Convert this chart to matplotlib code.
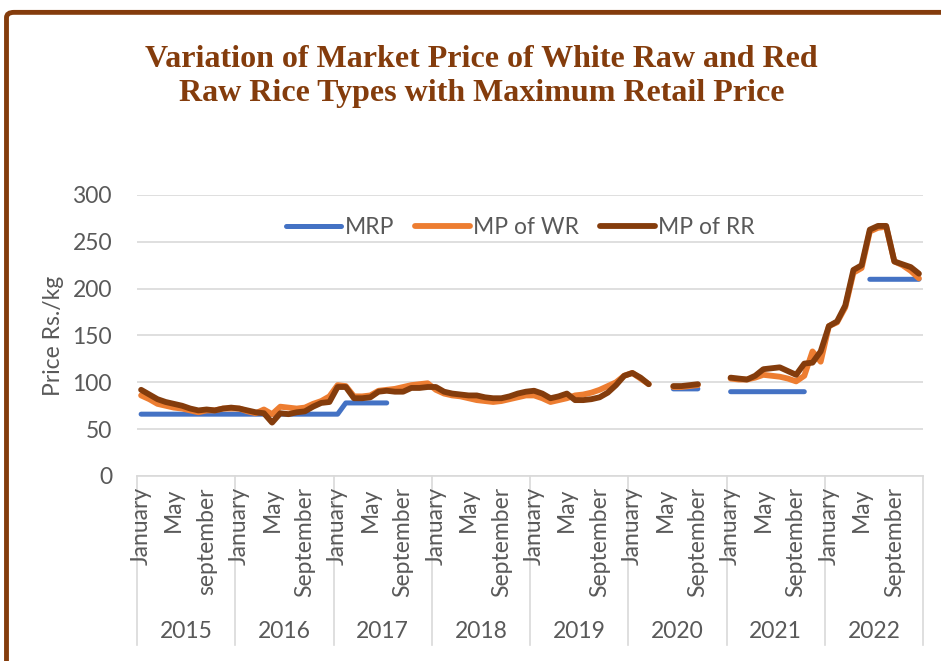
import numpy as np
import matplotlib.pyplot as plt
from matplotlib.patches import FancyBboxPatch
from matplotlib.transforms import blended_transform_factory

nan = np.nan

YEARS = ["2015", "2016", "2017", "2018", "2019", "2020", "2021", "2022"]
MONTH_TICKS = {0: "January", 4: "May", 8: "September"}

# monthly prices (Rs./kg), one row per year, Jan..Dec
mrp = [
    [66, 66, 66, 66, 66, 66, 66, 66, 66, 66, 66, 66],
    [66, 66, 66, 66, 66, 66, 66, 66, 66, 66, 66, 66],
    [66, 78, 78, 78, 78, 78, 78, nan, nan, nan, nan, nan],
    [nan, nan, nan, nan, nan, nan, nan, nan, nan, nan, nan, nan],
    [nan, nan, nan, nan, nan, nan, nan, nan, nan, nan, nan, nan],
    [nan, nan, nan, nan, nan, 93, 93, 93, 93, nan, nan, nan],
    [90, 90, 90, 90, 90, 90, 90, 90, 90, 90, nan, nan],
    [nan, nan, nan, nan, nan, 210, 210, 210, 210, 210, 210, 210],
]
mp_wr = [
    [86, 82, 77, 75, 73, 72, 70, 68, 70, 70, 72, 72],
    [72, 69, 67, 71, 66, 74, 73, 72, 73, 77, 80, 85],
    [97, 96, 85, 85, 86, 91, 92, 93, 95, 97, 98, 99],
    [92, 88, 86, 85, 83, 81, 80, 79, 80, 82, 84, 86],
    [86, 83, 79, 81, 83, 86, 87, 89, 92, 96, 100, 107],
    [110, 104, 98, nan, nan, 95, 95, 96, 97, nan, nan, nan],
    [104, 103, 103, 105, 108, 107, 106, 104, 101, 107, 133, 122],
    [160, 164, 180, 217, 222, 261, 265, 266, 229, 225, 219, 211],
]
mp_rr = [
    [92, 87, 82, 79, 77, 75, 72, 70, 71, 70, 72, 73],
    [72, 70, 68, 67, 57, 67, 66, 68, 69, 74, 78, 79],
    [95, 95, 83, 83, 84, 90, 91, 90, 90, 94, 94, 95],
    [95, 90, 88, 87, 86, 86, 84, 83, 83, 85, 88, 90],
    [91, 88, 83, 85, 88, 81, 81, 82, 84, 89, 97, 107],
    [110, 105, 98, nan, nan, 96, 96, 97, 98, nan, nan, nan],
    [105, 104, 103, 107, 114, 115, 116, 112, 108, 120, 121, 133],
    [160, 165, 182, 220, 225, 263, 267, 267, 229, 226, 223, 216],
]

BROWN = "#843C0C"
TXT = "#595959"
GRID = "#D9D9D9"
FS = 16.5

plt.rcParams["font.family"] = ["Lato", "DejaVu Sans"]

fig = plt.figure(figsize=(9.41, 6.61), dpi=100)
ax = fig.add_axes([0.1456, 0.2799, 0.8353, 0.4251])

n = 12 * len(YEARS)
x = np.arange(n) + 0.5
series = [
    ("MRP", mrp, "#4472C4", 3.6),
    ("MP of WR", mp_wr, "#ED7D31", 4.2),
    ("MP of RR", mp_rr, BROWN, 4.2),
]
for label, rows, color, lw in series:
    y = np.array(rows, dtype=float).ravel()
    ax.plot(x, y, color=color, lw=lw, label=label,
            solid_capstyle="round", solid_joinstyle="round")

ax.set_xlim(0, n)
ax.set_ylim(0, 300)
ax.set_yticks(np.arange(0, 301, 50))
ax.grid(axis="y", color=GRID, lw=1.2)
ax.set_axisbelow(True)
for s in ["top", "right", "left"]:
    ax.spines[s].set_visible(False)
ax.spines["bottom"].set_color(GRID)
ax.spines["bottom"].set_linewidth(1.2)
ax.tick_params(axis="y", length=0, pad=18, labelsize=FS, labelcolor=TXT)
ax.set_xticks([])

ax.set_ylabel("Price Rs./kg", fontsize=FS, color=TXT)
ax.yaxis.set_label_coords(-0.093, 0.5)

# two-level category axis: months, then years, with separators
trans = blended_transform_factory(ax.transData, ax.transAxes)
for k in range(len(YEARS) + 1):
    ax.plot([12 * k, 12 * k], [0, -0.60], transform=trans, color=GRID,
            lw=1.2, clip_on=False)
for k, yr in enumerate(YEARS):
    for m, name in MONTH_TICKS.items():
        if k == 0 and m == 8:
            name = "september"
        ax.text(12 * k + m + 0.5, -0.04, name, transform=trans, rotation=90,
                ha="center", va="top", fontsize=FS, color=TXT)
    ax.text(12 * k + 6, -0.555, yr, transform=trans, ha="center",
            va="center", fontsize=FS, color=TXT)

ax.legend(loc="center", bbox_to_anchor=(0.488, 0.886), ncol=3, frameon=False,
          fontsize=FS, labelcolor=TXT, handlelength=2.4, handletextpad=0.15,
          columnspacing=0.9)

fig.text(0.512, 0.884,
         "Variation of Market Price of White Raw and Red\n"
         "Raw Rice Types with Maximum Retail Price",
         ha="center", va="center", fontsize=23, fontweight="bold",
         family="Liberation Serif", color=BROWN, linespacing=1.2)

frame = FancyBboxPatch((0.0069, -0.2), 1.2, 1.1813,
                       boxstyle="round,pad=0,rounding_size=0.008",
                       transform=fig.transFigure, fill=False,
                       ec=BROWN, lw=3.5)
fig.add_artist(frame)

fig.savefig("out.png", dpi=100)
